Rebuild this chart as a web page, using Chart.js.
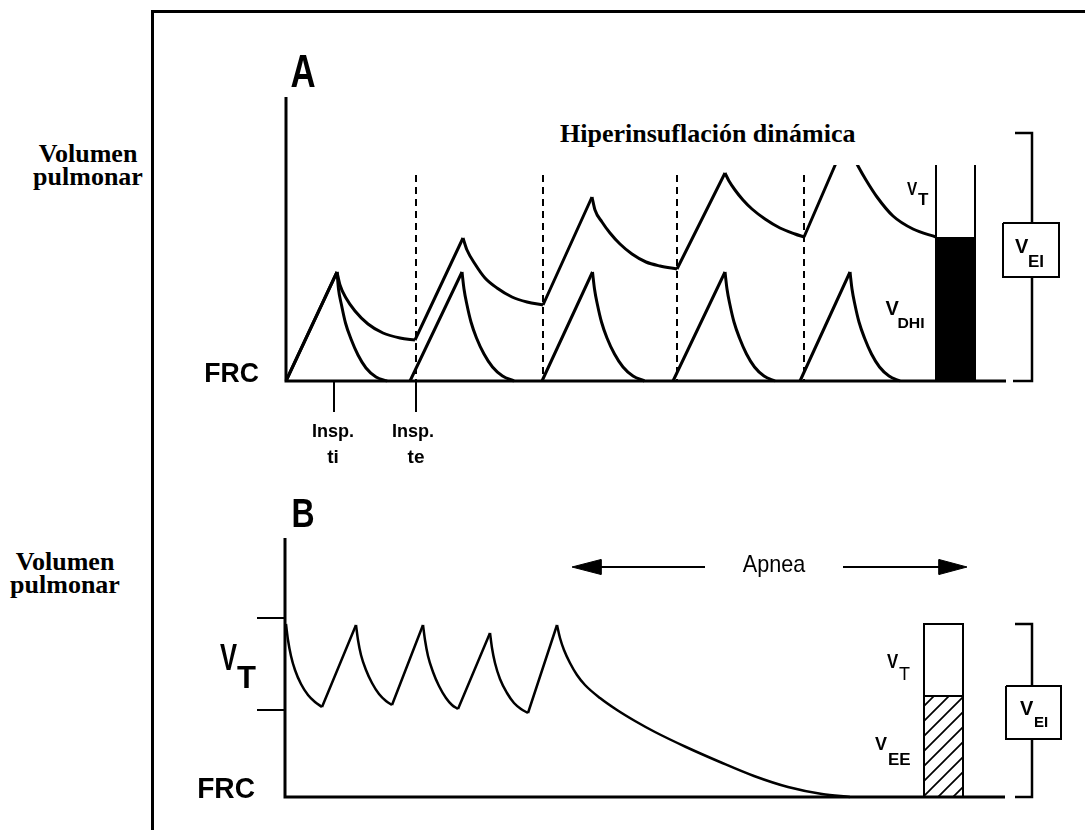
<!DOCTYPE html>
<html>
<head>
<meta charset="utf-8">
<script src="https://cdn.jsdelivr.net/npm/chart.js@4.4.1/dist/chart.umd.min.js"></script>
<style>
  html,body{margin:0;padding:0;background:#fff;}
  body{width:1085px;height:830px;overflow:hidden;position:relative;}
  #frame{position:absolute;left:151px;top:10px;width:1100px;height:900px;border-left:3px solid #000;border-top:3px solid #000;}
  .side{position:absolute;width:130px;text-align:center;font:bold 26px/23px "Liberation Serif","Times New Roman",serif;color:#000;}
  canvas{position:absolute;left:0;}
  #titlebox{position:absolute;left:555px;top:105px;width:450px;height:60px;background:#fff;}
  #title{position:absolute;left:560px;top:121px;font:bold 26px/26px "Liberation Serif","Times New Roman",serif;color:#000;white-space:nowrap;}
</style>
</head>
<body>
<div id="frame"></div>
<div class="side" style="left:23px;top:142px;">Volumen<br>pulmonar</div>
<div class="side" style="left:0px;top:550px;">Volumen<br>pulmonar</div>
<canvas id="cA" width="1085" height="500" style="top:0px;"></canvas>
<canvas id="cB" width="1085" height="370" style="top:460px;"></canvas>
<div id="titlebox"></div>
<div id="title">Hiperinsuflación dinámica</div>
<script>
// ================= DATA (time units on x, volume above FRC on y) =================
// ---- Panel A : normal breathing (each breath returns to FRC) ----
const aNormalRise = [
  [[0.00,0],[1.02,1.09]], [[2.48,0],[3.52,1.09]], [[5.12,0],[6.13,1.09]],
  [[7.74,0],[8.78,1.09]], [[10.28,0],[11.28,1.09]]
];
const aNormalDecay = [
  [[1.02,1.09],[1.05,0.92],[1.11,0.76],[1.19,0.58],[1.30,0.42],[1.44,0.26],[1.60,0.13],[1.80,0.04],[2.02,0]],
  [[3.52,1.09],[3.56,0.92],[3.62,0.76],[3.70,0.59],[3.81,0.43],[3.96,0.27],[4.13,0.14],[4.33,0.05],[4.56,0]],
  [[6.13,1.09],[6.17,0.92],[6.23,0.76],[6.31,0.59],[6.42,0.43],[6.57,0.27],[6.74,0.14],[6.94,0.05],[7.17,0]],
  [[8.78,1.09],[8.82,0.92],[8.88,0.76],[8.96,0.59],[9.07,0.43],[9.21,0.27],[9.37,0.14],[9.56,0.05],[9.78,0]],
  [[11.28,1.09],[11.32,0.92],[11.38,0.76],[11.46,0.59],[11.57,0.43],[11.71,0.27],[11.87,0.14],[12.06,0.05],[12.28,0]]
];
// ---- Panel A : dynamic hyperinflation (incomplete emptying) ----
const aHyperRise = [
  [[0.00,0],[1.02,1.09]], [[2.58,0.41],[3.54,1.43]], [[5.14,0.76],[6.12,1.84]],
  [[7.82,1.12],[8.78,2.08]], [[10.36,1.44],[11.20,2.41]]
];
const aHyperDecay = [
  [[1.02,1.09],[1.08,0.96],[1.20,0.83],[1.38,0.70],[1.64,0.57],[1.94,0.48],[2.28,0.43],[2.58,0.41]],
  [[3.54,1.43],[3.62,1.31],[3.78,1.17],[3.98,1.03],[4.22,0.93],[4.52,0.84],[4.82,0.79],[5.14,0.76]],
  [[6.12,1.84],[6.18,1.71],[6.32,1.59],[6.48,1.48],[6.68,1.37],[6.92,1.27],[7.20,1.19],[7.48,1.15],[7.82,1.12]],
  [[8.78,2.08],[8.86,2.00],[8.98,1.91],[9.14,1.81],[9.32,1.72],[9.58,1.62],[9.88,1.53],[10.18,1.47],[10.36,1.44]],
  [[11.20,2.41],[11.28,2.31],[11.44,2.15],[11.60,2.01],[11.82,1.84],[12.14,1.65],[12.54,1.52],[13.00,1.44]]
];
const aInspiratoryOnsets = [2.60, 5.14, 7.82, 10.36];   // dashed markers
const aTiTick = 0.96, aTeTick = 2.60;
const aDashTop = 2.06;
const aTickBottom = -0.31;
const aVdhi = 1.44;            // end-inspiratory excess volume (black bar)
const aBarT = [13.00, 13.78];
const aBarOpenTop = 2.16;
const aAxisTop = 2.84, aAxisEnd = 14.40;
const aBracketT = [14.58, 14.92], aBracketTop = 2.48, aBracketEnd = 14.54;
const aBoxT = [14.34, 15.46], aBoxV = [1.04, 1.58];

// ---- Panel B : breathing then apnea ----
const bBreathRise = [
  [[0.74,0.90],[1.42,1.72]], [[2.14,0.92],[2.76,1.72]],
  [[3.46,0.88],[4.10,1.64]], [[4.86,0.84],[5.44,1.72]]
];
const bBreathDecay = [
  [[0.02,1.73],[0.06,1.57],[0.12,1.41],[0.20,1.27],[0.32,1.13],[0.46,1.02],[0.60,0.95],[0.74,0.90]],
  [[1.42,1.72],[1.46,1.57],[1.52,1.42],[1.62,1.27],[1.74,1.14],[1.88,1.03],[2.02,0.96],[2.14,0.92]],
  [[2.76,1.72],[2.80,1.57],[2.86,1.41],[2.96,1.25],[3.08,1.11],[3.22,0.99],[3.34,0.92],[3.46,0.88]],
  [[4.10,1.64],[4.14,1.49],[4.20,1.34],[4.30,1.18],[4.44,1.04],[4.58,0.94],[4.72,0.88],[4.86,0.84]],
  [[5.44,1.72],[5.50,1.59],[5.58,1.47],[5.70,1.34],[5.84,1.22],[6.00,1.12],[6.30,0.99],[6.64,0.87],[7.00,0.76],
   [7.40,0.65],[8.02,0.50],[8.70,0.35],[9.38,0.21],[10.06,0.10],[10.74,0.03],[11.30,0.00]]
];
const bVtTicks = [1.79, 0.87];
const bTickLeft = -0.56;
const bAxisTop = 2.59, bAxisEnd = 14.40;
const bApneaV = 2.30;
const bArrowLeft = [5.74, 6.32, 8.40];     // tip, head base, tail
const bArrowRight = [13.64, 13.08, 11.16]; // tip, head base, tail
const bArrowHalf = 0.075;
const bBarT = [12.78, 13.56];
const bVt = 1.73, bVee = 1.01;
const bBracketT = [14.60, 14.94];
const bBoxT = [14.42, 15.52], bBoxV = [0.58, 1.11];

// ================= helpers =================
function path(pieces){
  const out=[];
  pieces.forEach((pc,i)=>{
    if(i) out.push({x:pc[0][0], y:null});
    pc.forEach(p=>out.push({x:p[0], y:p[1]}));
  });
  return out;
}
function ds(pieces, extra){
  return Object.assign({data:path(pieces), borderColor:'#000', borderWidth:3, pointRadius:0,
    fill:false, tension:0, clip:false, spanGaps:false, borderJoinStyle:'miter', borderCapStyle:'butt'}, extra||{});
}
const curve = {cubicInterpolationMode:'monotone', borderJoinStyle:'round'};

const annotPlugin = {
  id:'annot',
  afterDatasetsDraw(chart, args, opts){
    const {ctx} = chart, x = chart.scales.x, y = chart.scales.y;
    (opts.items||[]).forEach(it=>{
      ctx.save();
      ctx.fillStyle = '#000';
      ctx.font = (it.w||'bold') + ' ' + it.size + 'px "Liberation Sans", Arial, sans-serif';
      ctx.textAlign = it.align||'left';
      ctx.textBaseline = 'alphabetic';
      ctx.translate(x.getPixelForValue(it.t), y.getPixelForValue(it.v));
      ctx.scale(it.sx||1, 1);
      ctx.fillText(it.text, 0, 0);
      ctx.restore();
    });
  }
};

function makeChart(id, datasets, xr, yr, items){
  return new Chart(document.getElementById(id), {
    type:'line',
    data:{datasets},
    options:{
      responsive:false, animation:false, devicePixelRatio:1,
      layout:{padding:0},
      scales:{x:{type:'linear', min:xr[0], max:xr[1], display:false},
              y:{type:'linear', min:yr[0], max:yr[1], display:false}},
      plugins:{legend:{display:false}, tooltip:{enabled:false}, annot:{items}},
      elements:{point:{radius:0}}
    },
    plugins:[annotPlugin]
  });
}

// ================= Panel A =================
const dsA = [
  ds([[[0,aAxisTop],[0,0],[aAxisEnd,0]]]),
  ds(aHyperRise), ds(aHyperDecay, curve),
  ds(aNormalRise), ds(aNormalDecay, curve),
  ds([[[aTiTick,0],[aTiTick,aTickBottom]], [[aTeTick,0],[aTeTick,aTickBottom]]], {borderWidth:2}),
  ds(aInspiratoryOnsets.map(t=>[[t,aDashTop],[t,0]]), {borderWidth:2, borderDash:[7,5]}),
  ds([[[aBarT[0],0],[aBarT[0],aBarOpenTop]], [[aBarT[1],aBarOpenTop],[aBarT[1],0]]], {borderWidth:2}),
  ds([[[aBracketT[0],aBracketTop],[aBracketT[1],aBracketTop],[aBracketT[1],aBoxV[1]]],
      [[aBracketT[1],aBoxV[0]],[aBracketT[1],0],[aBracketEnd,0]]], {borderWidth:2.5}),
  ds([[[aBoxT[0],aBoxV[1]],[aBoxT[1],aBoxV[1]],[aBoxT[1],aBoxV[0]],[aBoxT[0],aBoxV[0]],[aBoxT[0],aBoxV[1]]]], {borderWidth:2}),
  ds([[[aBarT[0],0],[aBarT[0],aVdhi],[aBarT[1],aVdhi],[aBarT[1],0],[aBarT[0],0]]], {borderWidth:0, fill:'shape', backgroundColor:'#000'})
];
const labelsA = [
  {text:'A', t:0.34, v:2.94, size:47, sx:0.74, align:'center'},
  {text:'FRC', t:-0.54, v:-0.01, size:28, sx:0.95, align:'right'},
  {text:'Insp.', t:0.94, v:-0.56, size:19, sx:0.95, align:'center'},
  {text:'ti', t:0.94, v:-0.82, size:19, align:'center'},
  {text:'Insp.', t:2.54, v:-0.56, size:19, sx:0.95, align:'center'},
  {text:'te', t:2.60, v:-0.82, size:19, align:'center'},
  {text:'V', t:12.42, v:1.86, size:18, sx:0.85},
  {text:'T', t:12.64, v:1.76, size:17},
  {text:'V', t:11.99, v:0.66, size:20},
  {text:'DHI', t:12.23, v:0.53, size:15, sx:1.05},
  {text:'V', t:14.58, v:1.28, size:20},
  {text:'EI', t:14.84, v:1.14, size:17}
];
makeChart('cA', dsA, [-5.72, 15.98], [-1.19, 3.81], labelsA);

// ================= Panel B =================
const tile = document.createElement('canvas'); tile.width = tile.height = 15;
(function(g){ g.strokeStyle='#000'; g.lineWidth=1.7; g.beginPath();
  g.moveTo(-2,17); g.lineTo(17,-2); g.moveTo(-2,2); g.lineTo(2,-2); g.moveTo(13,17); g.lineTo(17,13); g.stroke();
})(tile.getContext('2d'));
const hatch = tile.getContext('2d').createPattern(tile,'repeat');

const dsB = [
  ds([[[0,bAxisTop],[0,0],[bAxisEnd,0]]]),
  ds(bBreathRise, {borderWidth:2.5}), ds(bBreathDecay, Object.assign({borderWidth:2.5}, curve)),
  ds(bVtTicks.map(v=>[[bTickLeft,v],[0,v]]), {borderWidth:2}),
  ds([[[bArrowLeft[1],bApneaV],[bArrowLeft[2],bApneaV]], [[bArrowRight[2],bApneaV],[bArrowRight[1],bApneaV]]], {borderWidth:2}),
  ds([[[bArrowLeft[0],bApneaV],[bArrowLeft[1],bApneaV+bArrowHalf],[bArrowLeft[1],bApneaV-bArrowHalf],[bArrowLeft[0],bApneaV]]], {borderWidth:1, fill:'shape', backgroundColor:'#000'}),
  ds([[[bArrowRight[0],bApneaV],[bArrowRight[1],bApneaV+bArrowHalf],[bArrowRight[1],bApneaV-bArrowHalf],[bArrowRight[0],bApneaV]]], {borderWidth:1, fill:'shape', backgroundColor:'#000'}),
  ds([[[bBarT[0],0],[bBarT[0],bVt],[bBarT[1],bVt],[bBarT[1],0]], [[bBarT[0],bVee],[bBarT[1],bVee]]], {borderWidth:2}),
  ds([[[bBracketT[0],bVt],[bBracketT[1],bVt],[bBracketT[1],bBoxV[1]]], [[bBracketT[1],bBoxV[0]],[bBracketT[1],0],[bBracketT[0],0]]], {borderWidth:2.5}),
  ds([[[bBoxT[0],bBoxV[1]],[bBoxT[1],bBoxV[1]],[bBoxT[1],bBoxV[0]],[bBoxT[0],bBoxV[0]],[bBoxT[0],bBoxV[1]]]], {borderWidth:2}),
  ds([[[bBarT[0],0],[bBarT[0],bVee],[bBarT[1],bVee],[bBarT[1],0],[bBarT[0],0]]], {borderWidth:0, fill:'shape', backgroundColor:hatch})
];
const labelsB = [
  {text:'B', t:0.36, v:2.70, size:40, sx:0.8, align:'center'},
  {text:'FRC', t:-0.60, v:-0.01, size:29, sx:0.97, align:'right'},
  {text:'V', t:-1.30, v:1.27, size:37, sx:0.69},
  {text:'T', t:-0.96, v:1.09, size:32, sx:0.97},
  {text:'Apnea', t:9.78, v:2.25, size:24, w:'normal', sx:0.9, align:'center'},
  {text:'V', t:12.04, v:1.29, size:21, sx:0.8},
  {text:'T', t:12.28, v:1.17, size:18, w:'normal'},
  {text:'V', t:11.80, v:0.47, size:18},
  {text:'EE', t:12.06, v:0.32, size:17},
  {text:'V', t:14.70, v:0.82, size:20},
  {text:'EI', t:14.98, v:0.70, size:15}
];
makeChart('cB', dsB, [-5.70, 16.00], [-0.33, 3.37], labelsB);
</script>
</body>
</html>
